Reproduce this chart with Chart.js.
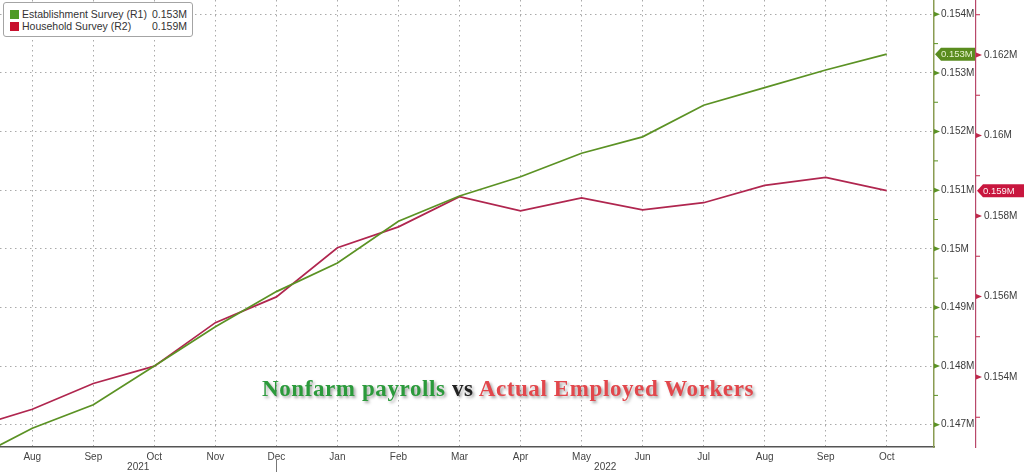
<!DOCTYPE html>
<html>
<head>
<meta charset="utf-8">
<script src="https://cdn.jsdelivr.net/npm/chart.js@4.4.0/dist/chart.umd.min.js"></script>
<style>
  html, body { margin: 0; padding: 0; background: #fff; }
  #wrap { position: relative; width: 1024px; height: 472px; }
  #legend {
    position: absolute; left: 3px; top: 2px; width: 188px; height: 33px;
    border: 1px solid #a4a4a4; border-radius: 3px; background: #fff;
    font: 10.5px "Liberation Sans", Arial, sans-serif; color: #333;
  }
  .row { position: absolute; left: 6px; right: 5px; height: 12px; line-height: 12px; }
  .sw { position: absolute; left: 0; top: 2px; width: 9px; height: 9px; }
  .lab { position: absolute; left: 12px; white-space: nowrap; }
  .val { position: absolute; right: 0; }
  #title {
    position: absolute; left: 262px; top: 377px; white-space: nowrap;
    font: bold 23px "Liberation Serif", "Times New Roman", serif; line-height: 23px;
    letter-spacing: 0.6px;
    text-shadow: 2px 2px 3px rgba(0,0,0,0.35);
  }
</style>
</head>
<body>
<div id="wrap">
  <canvas id="chart"></canvas>
  <div id="legend">
    <div class="row" style="top:5px"><span class="sw" style="background:#4f9a24"></span><span class="lab">Establishment Survey (R1)</span><span class="val" id="v1"></span></div>
    <div class="row" style="top:17px"><span class="sw" style="background:#c8102e"></span><span class="lab">Household Survey (R2)</span><span class="val" id="v2"></span></div>
  </div>
  <div id="title"><span style="color:#2b9a3b">Nonfarm payrolls</span> <span style="color:#222">vs</span> <span style="color:#e2474c">Actual Employed Workers</span></div>
</div>
<script>
// months from Jul 2021 to Oct 2022, first one sits just off the left edge
const months = ["Jul", "Aug", "Sep", "Oct", "Nov", "Dec", "Jan", "Feb", "Mar", "Apr", "May", "Jun", "Jul", "Aug", "Sep", "Oct"];
const years = ["2021", "2022"];
const establishment = [146.40, 146.94, 147.34, 148.00, 148.67, 149.27, 149.76, 150.47, 150.90, 151.23, 151.63, 151.91, 152.45, 152.75, 153.05, 153.32];
const household = [152.73, 153.20, 153.84, 154.27, 155.35, 155.99, 157.21, 157.73, 158.48, 158.13, 158.45, 158.15, 158.33, 158.76, 158.96, 158.63];
const leftTicks = [147, 148, 149, 150, 151, 152, 153, 154];
const rightTicks = [154, 156, 158, 160, 162];

const GREEN = "#5b9224";
const RED = "#b0264f";

const fmt = v => (v / 1000).toFixed(3).replace(/0+$/, "") + "M";

document.getElementById("v1").innerText = fmt(establishment[establishment.length - 1]);
document.getElementById("v2").innerText = fmt(household[household.length - 1]);

const toPoints = arr => arr.map((v, i) => ({ x: i - 1, y: v }));

const noPad = s => { s.paddingTop = 0; s.paddingBottom = 0; s.paddingLeft = 0; s.paddingRight = 0; };

// axis arrows, minor ticks, last-value badges and year row
const extras = {
  id: "extras",
  afterDraw(chart) {
    const { ctx, chartArea, scales } = chart;

    const marks = (scale, majors, step, color) => {
      const x0 = scale.left;
      ctx.save();
      ctx.fillStyle = color;
      ctx.strokeStyle = color;
      ctx.lineWidth = 1;
      for (let v = Math.ceil(scale.min / step) * step; v <= scale.max; v += step) {
        const y = scale.getPixelForValue(v);
        if (majors.includes(Math.round(v * 100) / 100)) {
          ctx.beginPath();
          ctx.moveTo(x0, y - 2.5);
          ctx.lineTo(x0 + 6, y);
          ctx.lineTo(x0, y + 2.5);
          ctx.closePath();
          ctx.fill();
        } else {
          ctx.beginPath();
          ctx.moveTo(x0, y);
          ctx.lineTo(x0 + 4, y);
          ctx.stroke();
        }
      }
      ctx.restore();
    };
    marks(scales.y, leftTicks, 0.5, GREEN);
    marks(scales.y1, rightTicks, 1, "#c0284a");

    const badge = (scale, value, fill, textColor, right) => {
      const y = scale.getPixelForValue(value);
      const x0 = scale.left + 1;
      ctx.save();
      ctx.fillStyle = fill;
      ctx.beginPath();
      ctx.moveTo(x0, y);
      ctx.lineTo(x0 + 6, y - 6.5);
      ctx.lineTo(right, y - 6.5);
      ctx.lineTo(right, y + 6.5);
      ctx.lineTo(x0 + 6, y + 6.5);
      ctx.closePath();
      ctx.fill();
      ctx.fillStyle = textColor;
      ctx.font = "9.5px 'Liberation Sans'";
      ctx.textBaseline = "middle";
      ctx.textAlign = "left";
      ctx.fillText(fmt(value), x0 + 6, y + 0.5);
      ctx.restore();
    };
    badge(scales.y, establishment[establishment.length - 1], "#5a8c1f", "#e8f3d2", scales.y.right - 1);
    badge(scales.y1, household[household.length - 1], "#c8163e", "#fff0f3", scales.y1.right);

    // year row under the month labels, split at Dec
    const x = scales.x;
    const split = x.getPixelForValue(months.indexOf("Dec") - 1);
    ctx.save();
    ctx.fillStyle = "#444";
    ctx.font = "10px 'Liberation Sans'";
    ctx.textAlign = "center";
    ctx.textBaseline = "middle";
    ctx.fillText(years[0], (chartArea.left + split) / 2, 467);
    ctx.fillText(years[1], (split + chartArea.right) / 2, 467);
    ctx.strokeStyle = "#777";
    ctx.lineWidth = 1;
    ctx.beginPath();
    ctx.moveTo(Math.round(split) + 0.5, 460);
    ctx.lineTo(Math.round(split) + 0.5, 472);
    ctx.stroke();
    ctx.restore();
  }
};

Chart.defaults.font.family = "'Liberation Sans', Arial, sans-serif";
Chart.defaults.font.size = 10;
Chart.defaults.color = "#3a3a3a";

new Chart(document.getElementById("chart"), {
  type: "line",
  data: {
    datasets: [
      {
        label: "Establishment Survey (R1)",
        data: toPoints(establishment),
        borderColor: GREEN,
        borderWidth: 1.7,
        pointRadius: 0,
        tension: 0,
        yAxisID: "y",
      },
      {
        label: "Household Survey (R2)",
        data: toPoints(household),
        borderColor: RED,
        borderWidth: 1.7,
        pointRadius: 0,
        tension: 0,
        yAxisID: "y1",
      }
    ]
  },
  options: {
    responsive: true,
    maintainAspectRatio: false,
    animation: false,
    layout: { padding: 0 },
    plugins: {
      legend: { display: false },
      tooltip: { enabled: false }
    },
    scales: {
      x: {
        type: "linear",
        min: -0.529,
        max: 14.775,
        afterBuildTicks: s => { s.ticks = months.slice(1).map((m, i) => ({ value: i })); },
        afterFit: s => { s.height = 25; noPad(s); },
        ticks: {
          padding: 4,
          maxRotation: 0,
          autoSkip: false,
          color: "#444",
          callback: v => months[v + 1]
        },
        grid: { color: "#aaaaaa", lineWidth: 1, drawTicks: false },
        border: { color: "#555", width: 1.5, dash: [1.5, 3.5] }
      },
      y: {
        position: "right",
        weight: 0,
        min: 146.62,
        max: 154.244,
        afterBuildTicks: s => { s.ticks = leftTicks.map(v => ({ value: v })); },
        afterFit: s => { s.width = 42; noPad(s); },
        ticks: { padding: 7, callback: v => fmt(v) },
        grid: { color: "#aaaaaa", lineWidth: 1, drawTicks: false },
        border: { color: "#8a9c52", width: 1.5, dash: [1.5, 3.5] }
      },
      y1: {
        position: "right",
        weight: 1,
        min: 152.261,
        max: 163.366,
        afterBuildTicks: s => { s.ticks = rightTicks.map(v => ({ value: v })); },
        afterFit: s => { s.width = 48; noPad(s); },
        ticks: { padding: 8, callback: v => fmt(v) },
        grid: { drawOnChartArea: false, drawTicks: false },
        border: { color: "#b8486a", width: 1.2 }
      }
    }
  },
  plugins: [extras]
});
</script>
</body>
</html>
